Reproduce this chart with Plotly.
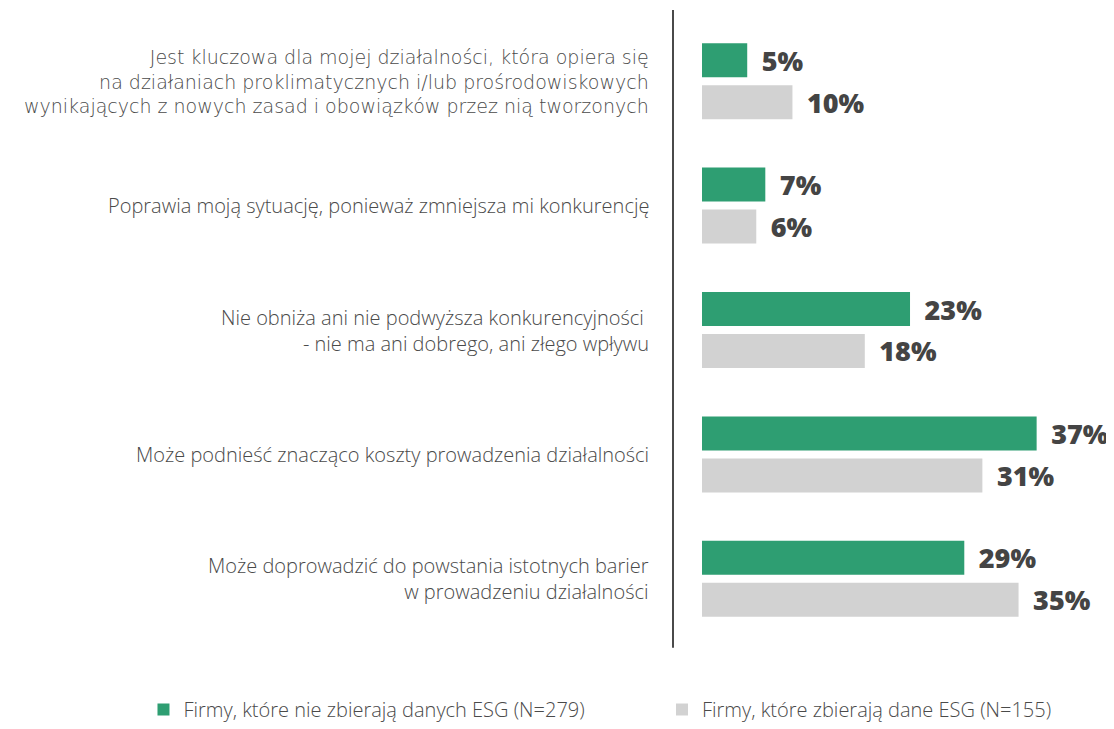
import plotly.graph_objects as go

categories = [
    "Jest kluczowa dla mojej działalności, która opiera się<br>na działaniach proklimatycznych i/lub prośrodowiskowych<br>wynikających z nowych zasad i obowiązków przez nią tworzonych",
    "Poprawia moją sytuację, ponieważ zmniejsza mi konkurencję",
    "Nie obniża ani nie podwyższa konkurencyjności <br>- nie ma ani dobrego, ani złego wpływu",
    "Może podnieść znacząco koszty prowadzenia działalności",
    "Może doprowadzić do powstania istotnych barier<br>w prowadzeniu działalności",
]
keys = ["c1", "c2", "c3", "c4", "c5"]
no_esg = [5, 7, 23, 37, 29]
esg = [10, 6, 18, 31, 35]
series_names = ["Firmy, które nie zbierają danych ESG (N=279)",
                "Firmy, które zbierają dane ESG (N=155)"]
GREEN = "#2e9e72"
GRAY = "#d2d2d2"
TXT = "#4a4a4a"

# page body has an 8px margin, so the figure is drawn 8px smaller
PLOT_L, PLOT_W = 694, 407

fig = go.Figure()
for i, (name, vals, col) in enumerate([(series_names[0], no_esg, GREEN), (series_names[1], esg, GRAY)]):
    fig.add_trace(go.Bar(
        y=keys, x=vals, name=name, orientation="h", marker_color=col,
        marker_line_width=0, legend="legend" if i == 0 else "legend2",
        text=[f"\u00a0\u2009{v}%" for v in vals], textposition="outside", constraintext="none",
        textfont=dict(family="Open Sans", size=27, color="#444444", weight=800),
        cliponaxis=False,
    ))

lab_x = (643 - PLOT_L) / PLOT_W
for j, (k, lab) in enumerate(zip(keys, categories)):
    if j == 0:
        f = dict(family="DejaVu Sans", size=19, color=TXT, weight=200)
    else:
        f = dict(family="Open Sans", size=20, color=TXT, weight=300)
    fig.add_annotation(x=lab_x, y=k, xref="paper", yref="y", text=lab, showarrow=False,
                       xanchor="right", align="right", font=f)

line_x = (665 - PLOT_L) / PLOT_W
fig.add_shape(type="line", xref="paper", yref="paper", x0=line_x, x1=line_x, y0=-0.011, y1=1.0145,
              line=dict(color="#4a4a4a", width=2))

legfont = dict(family="Open Sans", size=20, color=TXT, weight=300)
fig.update_layout(
    width=1106, height=721,
    margin=dict(l=PLOT_L, r=5, t=11, b=88),
    plot_bgcolor="white", paper_bgcolor="white",
    barmode="group", bargap=0.325, bargroupgap=0.19,
    xaxis=dict(range=[0, 45], showticklabels=False, showgrid=False, zeroline=False, showline=False),
    yaxis=dict(autorange="reversed", showticklabels=False, showgrid=False, zeroline=False, showline=False),
    showlegend=True,
    legend=dict(orientation="h", xref="container", yref="container", x=0.1225, y=0,
                xanchor="left", yanchor="bottom", font=legfont, itemclick=False),
    legend2=dict(orientation="h", xref="container", yref="container", x=0.5913, y=0,
                 xanchor="left", yanchor="bottom", font=legfont, itemclick=False),
)
fig.write_html("out.html")
